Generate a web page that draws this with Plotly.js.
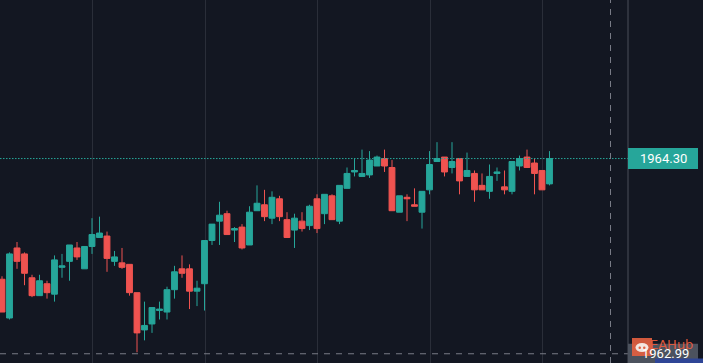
<!DOCTYPE html>
<html>
<head>
<meta charset="utf-8">
<script src="https://cdn.plot.ly/plotly-3.0.1.min.js"></script>
<style>
html,body{margin:0;padding:0;background:#131722;}
#chart{width:703px;height:363px;}
</style>
</head>
<body>
<div id="chart"></div>
<script>
// ---- data ----
var barIndex = [];
for (var i = 0; i < 74; i++) barIndex.push(i);

var openPrices = [1963.49,1963.23,1963.70,1963.66,1963.50,1963.38,1963.46,1963.39,1963.57,1963.61,
1963.70,1963.56,1963.71,1963.77,1963.78,1963.61,1963.60,1963.59,1963.40,1963.15,
1963.19,1963.28,1963.27,1963.42,1963.56,1963.56,1963.41,1963.46,1963.75,1963.88,
1963.93,1963.82,1963.84,1963.72,1963.95,1963.99,1963.90,1964.03,1963.89,1963.82,
1963.88,1963.85,1964.03,1963.93,1964.05,1963.88,1964.10,1964.21,1964.18,1964.19,
1964.25,1964.30,1964.24,1963.94,1964.04,1963.99,1963.94,1964.09,1964.28,1964.31,
1964.24,1964.30,1964.18,1964.20,1964.12,1964.08,1964.20,1964.11,1964.08,1964.25,
1964.31,1964.27,1964.22,1964.13];

var highPrices = [1963.51,1963.67,1963.74,1963.67,1963.52,1963.52,1963.48,1963.65,1963.66,1963.72,
1963.74,1963.71,1963.90,1963.91,1963.81,1963.68,1963.70,1963.59,1963.40,1963.34,
1963.30,1963.34,1963.44,1963.58,1963.65,1963.59,1963.48,1963.75,1963.86,1964.01,
1963.95,1963.84,1963.86,1963.98,1964.12,1964.09,1964.08,1964.05,1963.94,1963.93,
1963.94,1963.99,1964.06,1964.06,1964.06,1964.12,1964.24,1964.30,1964.36,1964.35,
1964.32,1964.36,1964.29,1964.05,1964.06,1964.10,1964.08,1964.35,1964.41,1964.31,
1964.41,1964.30,1964.34,1964.22,1964.20,1964.26,1964.24,1964.22,1964.28,1964.32,
1964.36,1964.30,1964.22,1964.35];

var lowPrices = [1963.27,1963.22,1963.56,1963.45,1963.37,1963.38,1963.36,1963.34,1963.50,1963.48,
1963.62,1963.56,1963.66,1963.77,1963.54,1963.58,1963.56,1963.38,1963.00,1963.08,
1963.13,1963.22,1963.22,1963.36,1963.50,1963.29,1963.31,1963.28,1963.72,1963.72,
1963.79,1963.74,1963.69,1963.72,1963.95,1963.88,1963.86,1963.88,1963.77,1963.70,
1963.81,1963.82,1963.80,1963.86,1963.89,1963.86,1964.10,1964.18,1964.18,1964.17,
1964.25,1964.21,1963.95,1963.94,1963.88,1963.98,1963.83,1964.06,1964.28,1964.18,
1964.20,1964.06,1964.18,1964.01,1964.09,1964.03,1964.15,1964.06,1964.06,1964.22,
1964.24,1964.06,1964.09,1964.12];

var closePrices = [1963.27,1963.66,1963.61,1963.53,1963.38,1963.48,1963.40,1963.62,1963.58,1963.72,
1963.64,1963.71,1963.79,1963.80,1963.63,1963.64,1963.57,1963.40,1963.13,1963.18,
1963.30,1963.29,1963.42,1963.54,1963.53,1963.41,1963.43,1963.75,1963.86,1963.92,
1963.79,1963.83,1963.70,1963.94,1964.00,1963.91,1964.04,1963.91,1963.77,1963.90,
1963.83,1963.98,1963.83,1964.06,1963.89,1964.12,1964.20,1964.22,1964.20,1964.29,
1964.31,1964.25,1963.95,1964.05,1964.03,1963.98,1964.08,1964.26,1964.30,1964.21,
1964.28,1964.15,1964.22,1964.09,1964.09,1964.18,1964.21,1964.09,1964.28,1964.30,
1964.24,1964.20,1964.09,1964.30];

var lastPrice = 1964.30;
var crosshairPrice = 1962.99;
var lastPriceLabel = '1964.30';
var crosshairLabel = '1962.99';
var watermarkText = 'EAHub';

// ---- styles ----
var UP = '#26a69a', DOWN = '#ef5350', BG = '#131722';
var PW = 628, H = 363; // plot area width / height in px
function px(x) { return x / PW; }        // paper x from pixel
function py(y) { return (H - y) / H; }   // paper y from pixel

var trace = {
  type: 'candlestick',
  x: barIndex,
  open: openPrices, high: highPrices, low: lowPrices, close: closePrices,
  increasing: {line: {color: UP, width: 1}, fillcolor: UP},
  decreasing: {line: {color: DOWN, width: 1}, fillcolor: DOWN},
  whiskerwidth: 0,
  hoverinfo: 'skip'
};

var shapes = [
  // last price dotted line
  {type: 'line', xref: 'paper', x0: 0, x1: 1, yref: 'y', y0: lastPrice, y1: lastPrice,
   line: {color: UP, width: 1, dash: '1.5px,1.5px'}},
  // crosshair horizontal
  {type: 'line', xref: 'paper', x0: 0, x1: 1, yref: 'y', y0: crosshairPrice, y1: crosshairPrice,
   line: {color: '#787b86', width: 1, dash: '6px,6px'}},
  // crosshair vertical
  {type: 'line', xref: 'paper', x0: px(610.5), x1: px(610.5), yref: 'paper', y0: 0, y1: 1,
   line: {color: '#787b86', width: 1, dash: '6px,6px'}},
  // price scale border
  {type: 'line', xref: 'paper', x0: 1, x1: 1, yref: 'paper', y0: 0, y1: 1,
   line: {color: '#4a4e59', width: 1}},
  // last price label box
  {type: 'rect', xref: 'paper', x0: 1, x1: px(698), yref: 'y', ysizemode: 'pixel', yanchor: lastPrice,
   y0: -10.5, y1: 10.5, fillcolor: UP, line: {width: 0}},
  // crosshair label box
  {type: 'rect', xref: 'paper', x0: 1, x1: px(698), yref: 'y', ysizemode: 'pixel', yanchor: crosshairPrice,
   y0: -10, y1: 10, fillcolor: '#4c525e', line: {width: 0}},
  // bottom blue strip
  {type: 'rect', xref: 'paper', x0: px(655), x1: px(703), yref: 'paper', y0: py(363), y1: py(358.5),
   fillcolor: '#2e4596', line: {width: 0}},
  // watermark logo
  {type: 'rect', xref: 'paper', x0: px(632), x1: px(652), yref: 'paper', y0: py(356), y1: py(338),
   fillcolor: 'rgba(226,96,64,0.92)', line: {width: 0}},
  {type: 'circle', xref: 'paper', x0: px(635.5), x1: px(648.5), yref: 'paper', y0: py(352), y1: py(343),
   fillcolor: '#f4e6e0', line: {width: 0}},
  {type: 'circle', xref: 'paper', x0: px(638.5), x1: px(641), yref: 'paper', y0: py(349), y1: py(346.5),
   fillcolor: 'rgba(226,96,64,1)', line: {width: 0}},
  {type: 'circle', xref: 'paper', x0: px(643), x1: px(645.5), yref: 'paper', y0: py(349), y1: py(346.5),
   fillcolor: 'rgba(226,96,64,1)', line: {width: 0}}
];

var annotations = [
  {xref: 'paper', x: px(663.5), yref: 'y', y: lastPrice, text: lastPriceLabel, showarrow: false,
   xanchor: 'center', yanchor: 'middle',
   font: {family: 'Roboto, "Liberation Sans", sans-serif', size: 13, color: '#ffffff'}},
  {xref: 'paper', x: px(665), yref: 'y', y: crosshairPrice, text: crosshairLabel, showarrow: false,
   xanchor: 'center', yanchor: 'middle',
   font: {family: 'Roboto, "Liberation Sans", sans-serif', size: 13, color: '#ffffff'}},
  {xref: 'paper', x: px(671), yref: 'paper', y: py(344), text: watermarkText, showarrow: false,
   xanchor: 'center', yanchor: 'middle',
   font: {family: '"DejaVu Sans", sans-serif', size: 13, color: 'rgba(230,92,62,0.95)'}}
];

var layout = {
  width: 703, height: 363,
  margin: {l: 0, r: 75, t: 0, b: 0, pad: 0},
  paper_bgcolor: BG, plot_bgcolor: BG,
  showlegend: false,
  boxgap: 0.22, boxgroupgap: 0,
  xaxis: {
    range: [-0.2667, 83.467],
    tickmode: 'array', tickvals: [12.1, 27.1, 42.1, 57.1, 72.1],
    showticklabels: false, ticks: '',
    showgrid: true, gridcolor: '#2a2e39', gridwidth: 1,
    zeroline: false, showline: false,
    rangeslider: {visible: false}, fixedrange: true
  },
  yaxis: {
    range: [1962.928, 1965.364],
    showgrid: false, showticklabels: false, ticks: '',
    zeroline: false, showline: false, fixedrange: true
  },
  shapes: shapes,
  annotations: annotations
};

Plotly.newPlot('chart', [trace], layout, {displayModeBar: false, staticPlot: true});
</script>
</body>
</html>
